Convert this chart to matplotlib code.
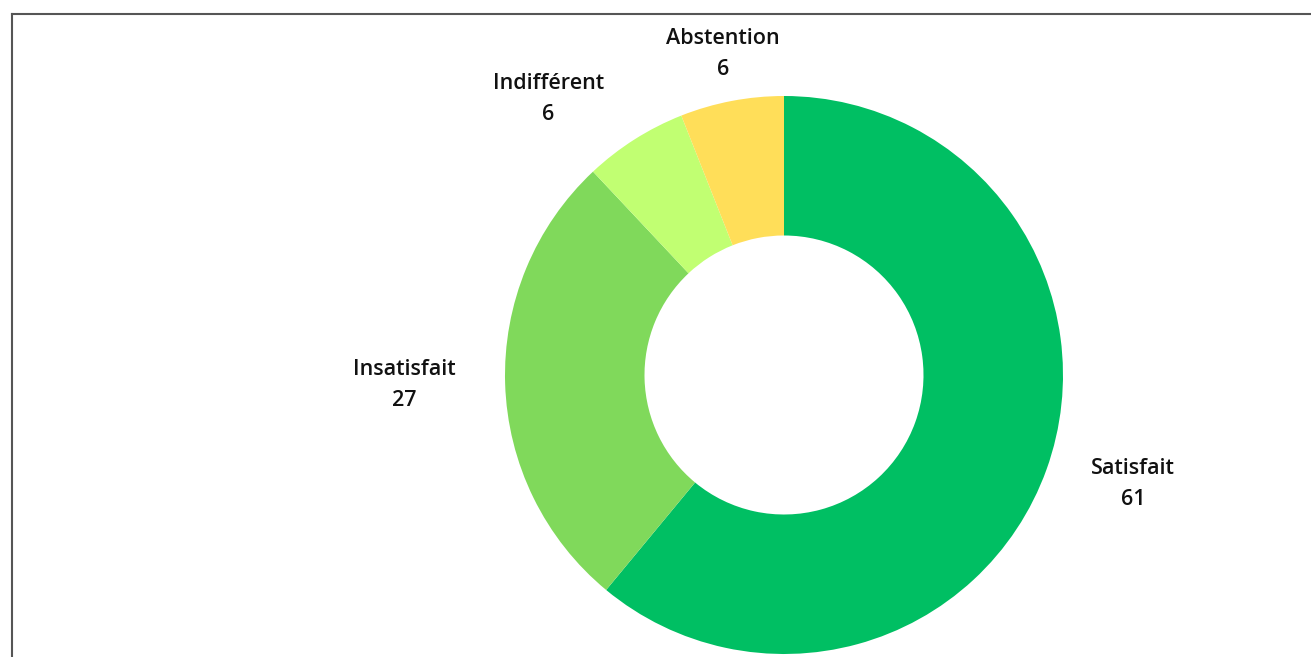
import numpy as np
import matplotlib.pyplot as plt
from matplotlib.lines import Line2D

labels = ["Satisfait", "Insatisfait", "Indifférent", "Abstention"]
values = [61, 27, 6, 6]
colors = ["#00BF63", "#80D95B", "#C1FF72", "#FFDE59"]

W, H = 1311, 657
fig = plt.figure(figsize=(W / 100, H / 100), dpi=100)

# pie centre and radius in pixels
cx, cy, r = 784, 375, 279
ax = fig.add_axes([(cx - r) / W, (H - cy - r) / H, 2 * r / W, 2 * r / H])
ax.axis("off")

wedges, _ = ax.pie(values, colors=colors, startangle=90, counterclock=False,
                   radius=1, wedgeprops=dict(width=0.5, linewidth=0))
ax.set_xlim(-1, 1)
ax.set_ylim(-1, 1)
ax.set_aspect("equal")

# label placement tweaks (angle offset deg, distance)
tweaks = [(2.5, 1.31), (-0.3, 1.36), (8.1, 1.30), (0.0, 1.17)]
for w, lab, v, (da, d) in zip(wedges, labels, values, tweaks):
    ang = np.deg2rad((w.theta1 + w.theta2) / 2 + da)
    ax.text(d * np.cos(ang), d * np.sin(ang), f"{lab}\n{v}",
            ha="center", va="center", fontsize=15.5, fontweight="semibold",
            family="Open Sans", color="#111111", linespacing=1.62,
            clip_on=False)

# frame lines
fig.add_artist(Line2D([12 / W, 12 / W], [0, 1 - 14 / H], color="#555555", lw=1.5))
fig.add_artist(Line2D([12 / W, 1], [1 - 14 / H, 1 - 14 / H], color="#555555", lw=1.5))

fig.savefig("out.png", dpi=100)
